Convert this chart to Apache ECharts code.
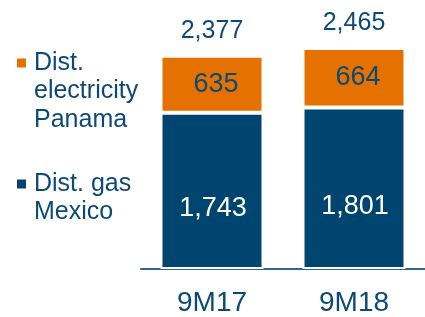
<!DOCTYPE html>
<html>
<head>
<meta charset="utf-8">
<script src="https://cdn.jsdelivr.net/npm/echarts@6/dist/echarts.min.js"></script>
<style>
  html, body { margin: 0; padding: 0; background: #fff; }
  #chart { width: 425px; height: 317px; }
</style>
</head>
<body>
<div id="chart"></div>
<script>
const periods = ['9M17', '9M18'];
const gasMexico = [1743, 1801];
const elecPanama = [635, 664];
const totals = [2377, 2465];

const BLUE = '#004470';
const ORANGE = '#E57200';
const TEXT = '#0C4A76';
const FONT = 'Liberation Sans, Arial, sans-serif';
const LH = 28.5;

const chart = echarts.init(document.getElementById('chart'));

// legend text is centred on its icon, so pad with blank lines on top
// to keep the icon beside the first line
const legendBase = {
  left: 15,
  orient: 'vertical',
  padding: 0,
  icon: 'rect',
  itemWidth: 11,
  itemHeight: 11,
  itemGap: 0,
  selectedMode: false,
  textStyle: {
    color: TEXT,
    fontFamily: FONT,
    fontSize: 25,
    lineHeight: LH,
    padding: [0, 0, 0, 2]
  }
};

chart.setOption({
  animation: false,
  textStyle: { fontFamily: FONT },
  legend: [
    Object.assign({}, legendBase, {
      top: 63 - 2.5 * LH,
      data: ['Dist. electricity Panama'],
      formatter: () => ' \n \nDist.\nelectricity\nPanama'
    }),
    Object.assign({}, legendBase, {
      top: 184 - 1.5 * LH,
      data: ['Dist. gas Mexico'],
      formatter: () => ' \nDist. gas\nMexico'
    })
  ],
  grid: { left: 141, right: 0, top: 0, bottom: 48 },
  xAxis: {
    type: 'category',
    data: periods,
    axisTick: { show: false },
    axisLine: { lineStyle: { color: '#2F6690', width: 2 } },
    axisLabel: { color: TEXT, fontSize: 28, margin: 20, fontFamily: FONT }
  },
  yAxis: {
    type: 'value',
    min: 0,
    max: 3000,
    show: false,
    splitLine: { show: false }
  },
  series: [
    {
      name: 'Dist. gas Mexico',
      type: 'bar',
      stack: 'total',
      barWidth: 103,
      data: gasMexico,
      itemStyle: { color: BLUE, borderColor: '#fff', borderWidth: 2 },
      label: {
        show: true,
        position: 'inside',
        offset: [1, 18],
        color: '#fff',
        fontSize: 27,
        fontFamily: FONT,
        formatter: p => p.value.toLocaleString('en-US')
      }
    },
    {
      name: 'Dist. electricity Panama',
      type: 'bar',
      stack: 'total',
      barWidth: 103,
      data: elecPanama,
      itemStyle: { color: ORANGE, borderColor: '#fff', borderWidth: 2 },
      label: {
        show: true,
        position: 'inside',
        offset: [4, 0],
        color: TEXT,
        fontSize: 27,
        fontFamily: FONT
      }
    },
    {
      name: 'Total',
      type: 'bar',
      barWidth: 103,
      barGap: '-100%',
      data: totals,
      itemStyle: { color: 'rgba(0,0,0,0)' },
      silent: true,
      label: {
        show: true,
        position: 'top',
        distance: 12,
        color: TEXT,
        fontSize: 25,
        fontFamily: FONT,
        formatter: p => p.value.toLocaleString('en-US')
      }
    }
  ]
});
</script>
</body>
</html>
